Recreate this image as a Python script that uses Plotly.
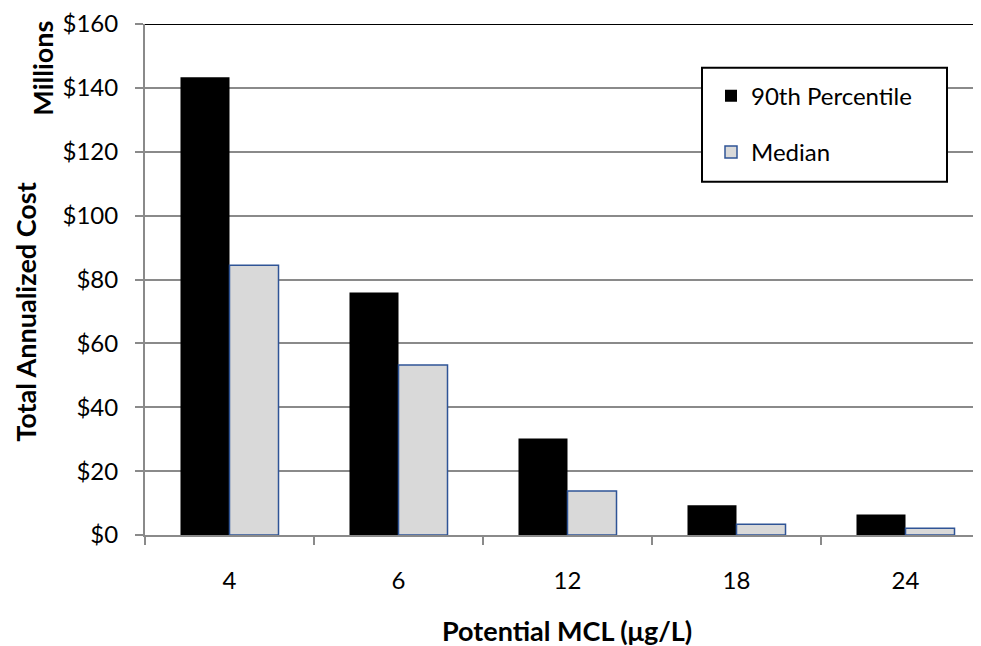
import plotly.graph_objects as go

categories = ["4", "6", "12", "18", "24"]
p90_values = [143.3, 75.9, 30.2, 9.3, 6.4]
median_values = [84.5, 53.2, 13.8, 3.4, 2.1]
y_ticks = [0, 20, 40, 60, 80, 100, 120, 140, 160]
y_tick_labels = ["$" + str(v) for v in y_ticks]

FONT = "Lato"
GRID = "#8a8a8a"

# layout geometry (figure pixels)
L, T, PW, PH = 137, 12, 844, 515


def px(xf):
    return (xf - L) / PW


def py(yf):
    return (T + PH - yf) / PH


fig = go.Figure()
fig.add_trace(go.Bar(
    x=categories, y=p90_values, name="90th Percentile",
    marker=dict(color="#000000", line=dict(color="#000000", width=0)),
    legendgroup="a",
))
fig.add_trace(go.Bar(
    x=categories, y=median_values, name="Median",
    marker=dict(color="#d9d9d9", line=dict(color="#2f5496", width=1.5)),
    legendgroup="b",
))

fig.update_layout(
    width=981, height=646,
    margin=dict(l=L, r=981 - L - PW, t=T, b=646 - T - PH),
    paper_bgcolor="white", plot_bgcolor="white",
    barmode="group", bargap=0.42, bargroupgap=0,
    font=dict(family=FONT, size=24, color="#000000"),
    showlegend=True,
    legend=dict(
        x=px(703), y=py(62), xanchor="left", yanchor="top",
        bgcolor="rgba(0,0,0,0)", borderwidth=0,
        traceorder="grouped", tracegroupgap=22,
        font=dict(family=FONT, size=24, color="#000000"),
    ),
    xaxis=dict(
        type="category", range=[-0.5, -0.5 + PW / 169.0],
        showline=True, linecolor=GRID, linewidth=2,
        ticks="outside", tickson="boundaries", ticklen=8, tickcolor=GRID, tickwidth=2,
        showgrid=False, ticklabelstandoff=23,
        tickfont=dict(family=FONT, size=24),
    ),
    yaxis=dict(
        range=[0, 160], tickvals=y_ticks, ticktext=y_tick_labels,
        showline=True, linecolor=GRID, linewidth=2,
        ticks="outside", ticklen=8, tickcolor=GRID, tickwidth=2,
        showgrid=True, gridcolor=GRID, gridwidth=1.5, zeroline=False,
        ticklabelstandoff=12, ticklabeloverflow="allow",
        tickfont=dict(family=FONT, size=24),
    ),
    shapes=[
        dict(type="line", xref="paper", yref="y", x0=0, x1=1, y0=160, y1=160,
             line=dict(color="#000000", width=2)),
        dict(type="rect", xref="paper", yref="paper",
             x0=px(694), x1=px(939), y0=py(171), y1=py(56),
             line=dict(color="#000000", width=2), fillcolor="white", layer="above"),
    ],
    annotations=[
        dict(text="<b>Potential MCL (μg/L)</b>", xref="paper", yref="paper",
             x=px(559), y=py(623), xanchor="center", yanchor="middle",
             showarrow=False, font=dict(family=FONT, size=27)),
        dict(text="<b>Total Annualized Cost</b>", xref="paper", yref="paper",
             x=px(18), y=py(302), xanchor="center", yanchor="middle",
             textangle=-90, showarrow=False, font=dict(family=FONT, size=27)),
        dict(text="<b>Millions</b>", xref="paper", yref="paper",
             x=px(35), y=py(57), xanchor="center", yanchor="middle",
             textangle=-90, showarrow=False, font=dict(family=FONT, size=27)),
    ],
)

fig.write_html("out.html")
